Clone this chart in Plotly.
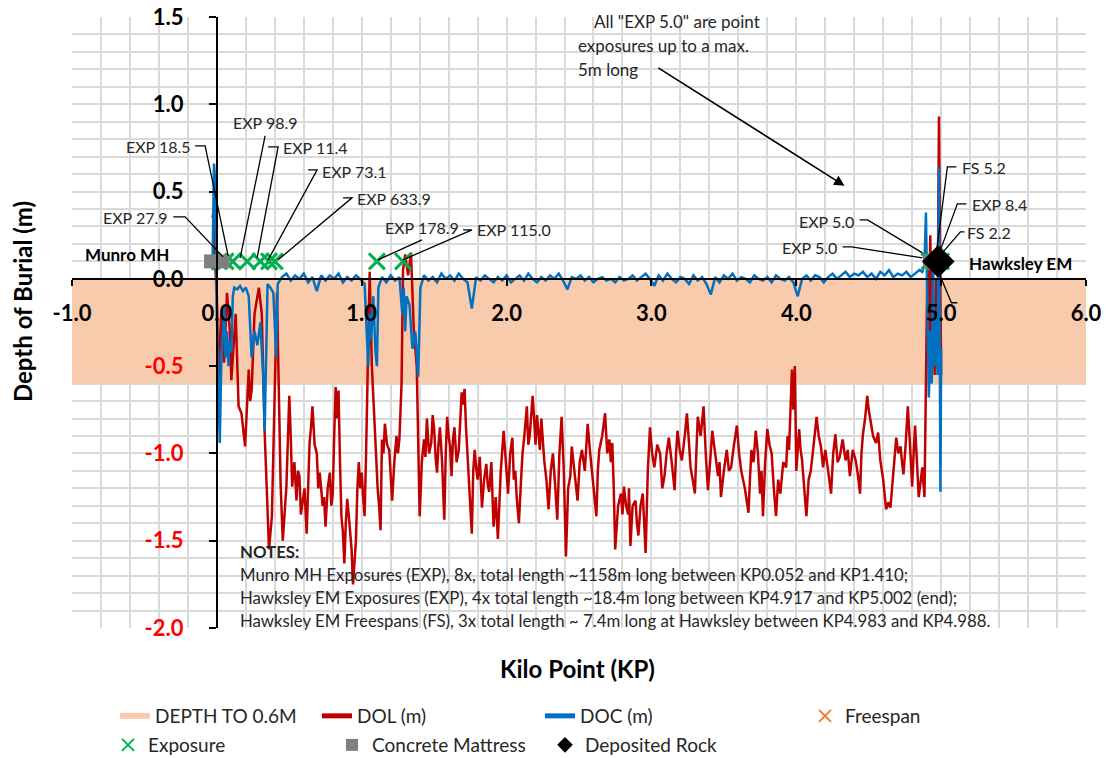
import plotly.graph_objects as go

FONT = "Lato"

# depth of lowering (DOL)
dol_kp = [
    -0.03, -0.02, -0.01, 0.0, 0.01, 0.03, 0.05, 0.07, 0.09, 0.10,
    0.13, 0.15, 0.17, 0.195, 0.22, 0.23, 0.24, 0.26, 0.29, 0.31,
    0.33, 0.345, 0.36, 0.38, 0.40, 0.415, 0.44, 0.455, 0.48, 0.50,
    0.51, 0.52, 0.535, 0.55, 0.56, 0.57, 0.58, 0.59, 0.605, 0.62,
    0.63, 0.64, 0.65, 0.66, 0.675, 0.69, 0.70, 0.71, 0.72, 0.73,
    0.74, 0.75, 0.765, 0.78, 0.79, 0.80, 0.81, 0.82, 0.83, 0.84,
    0.85, 0.86, 0.87, 0.88, 0.89, 0.90, 0.91, 0.92, 0.93, 0.94,
    0.95, 0.96, 0.97, 0.98, 0.99, 1.00, 1.01, 1.02, 1.03, 1.04,
    1.055, 1.07, 1.08, 1.09, 1.10, 1.11, 1.12, 1.13, 1.14, 1.15,
    1.16, 1.175, 1.19, 1.20, 1.21, 1.225, 1.24, 1.25, 1.26, 1.275,
    1.285, 1.30, 1.32, 1.34, 1.36, 1.38, 1.40, 1.415, 1.43, 1.44,
    1.45, 1.465, 1.48, 1.49, 1.50, 1.51, 1.52, 1.53, 1.54, 1.555,
    1.57, 1.58, 1.59, 1.60, 1.61, 1.62, 1.63, 1.64, 1.655, 1.67,
    1.68, 1.69, 1.70, 1.71, 1.72, 1.73, 1.745, 1.76, 1.77, 1.78,
    1.79, 1.80, 1.815, 1.83, 1.845, 1.86, 1.87, 1.88, 1.895, 1.91,
    1.925, 1.94, 1.96, 1.98, 1.995, 2.01, 2.025, 2.04, 2.05, 2.06,
    2.07, 2.085, 2.10, 2.11, 2.125, 2.14, 2.15, 2.16, 2.17, 2.18,
    2.19, 2.20, 2.21, 2.22, 2.23, 2.24, 2.25, 2.26, 2.275, 2.29,
    2.305, 2.32, 2.335, 2.35, 2.365, 2.38, 2.395, 2.41, 2.425, 2.44,
    2.45, 2.46, 2.475, 2.49, 2.505, 2.52, 2.54, 2.56, 2.575, 2.59,
    2.605, 2.62, 2.63, 2.64, 2.66, 2.68, 2.695, 2.71, 2.72, 2.73,
    2.74, 2.75, 2.77, 2.79, 2.80, 2.81, 2.825, 2.84, 2.845, 2.855,
    2.87, 2.89, 2.90, 2.91, 2.925, 2.94, 2.95, 2.96, 2.975, 2.99,
    3.005, 3.02, 3.04, 3.06, 3.075, 3.09, 3.105, 3.12, 3.14, 3.16,
    3.17, 3.18, 3.195, 3.21, 3.23, 3.245, 3.26, 3.27, 3.285, 3.30,
    3.31, 3.32, 3.34, 3.36, 3.375, 3.39, 3.405, 3.42, 3.44, 3.46,
    3.47, 3.48, 3.50, 3.52, 3.535, 3.55, 3.57, 3.59, 3.605, 3.62,
    3.645, 3.67, 3.68, 3.69, 3.705, 3.72, 3.735, 3.75, 3.76, 3.77,
    3.785, 3.80, 3.815, 3.83, 3.845, 3.86, 3.875, 3.89, 3.91, 3.93,
    3.94, 3.95, 3.96, 3.97, 3.98, 3.99, 4.00, 4.01, 4.02, 4.03,
    4.04, 4.055, 4.07, 4.085, 4.10, 4.12, 4.14, 4.155, 4.17, 4.185,
    4.20, 4.22, 4.24, 4.255, 4.27, 4.285, 4.30, 4.32, 4.34, 4.355,
    4.37, 4.39, 4.41, 4.425, 4.44, 4.45, 4.46, 4.475, 4.49, 4.50,
    4.51, 4.53, 4.55, 4.565, 4.58, 4.60, 4.62, 4.635, 4.65, 4.67,
    4.69, 4.705, 4.72, 4.73, 4.74, 4.755, 4.77, 4.785, 4.80, 4.81,
    4.82, 4.83, 4.845, 4.86, 4.87, 4.885, 4.895, 4.905, 4.915, 4.925,
    4.935, 4.945, 4.955, 4.965, 4.975, 4.985, 4.995, 5.0,
]
dol_m = [
    0.35, 0.40, 0.05, -0.1, -0.58, -0.2, -0.48, -0.08, -0.3, -0.58,
    -0.2, -0.73, -0.77, -0.96, -0.52, -0.7, -0.64, -0.2, -0.05, -0.2,
    -0.88, -1.21, -1.55, -1.36, -0.6, -0.08, -1.17, -1.5, -1.19, -0.67,
    -0.9, -1.19, -1.05, -1.27, -1.1, -1.13, -1.35, -1.29, -1.2, -1.46,
    -1.15, -0.94, -0.85, -0.73, -0.95, -1.0, -1.2, -1.11, -1.2, -1.3,
    -1.25, -1.42, -1.2, -1.11, -1.3, -1.23, -0.9, -0.62, -0.8, -0.64,
    -1.05, -1.36, -1.45, -1.63, -1.4, -1.26, -1.35, -1.44, -1.55, -1.75,
    -1.6, -1.5, -1.2, -1.05, -1.2, -1.11, -1.25, -1.36, -1.0, -0.62,
    0.04, -0.5, -0.7, -0.9, -1.1, -1.2, -1.3, -1.44, -0.92, -1.0,
    -0.83, -0.95, -0.98, -1.1, -1.27, -1.05, -0.9, -1.0, -0.92, -0.6,
    0.05, 0.14, 0.02, 0.15, -0.3, -0.5, -1.36, -1.05, -0.92, -1.02,
    -0.80, -1.0, -0.94, -0.78, -0.86, -1.02, -1.11, -0.95, -0.85, -1.05,
    -1.38, -1.0, -0.79, -0.9, -0.96, -1.13, -0.92, -0.85, -1.05, -0.98,
    -0.8, -0.65, -0.72, -0.63, -0.85, -1.0, -1.2, -1.46, -1.1, -0.98,
    -1.08, -1.15, -1.02, -1.31, -1.15, -1.06, -1.18, -1.22, -1.05, -1.42,
    -1.25, -1.49, -1.1, -0.87, -1.05, -1.23, -1.0, -0.91, -1.15, -1.1,
    -1.25, -1.4, -1.15, -1.0, -0.88, -0.73, -0.95, -0.9, -0.78, -0.67,
    -0.8, -0.95, -0.78, -0.87, -0.98, -0.80, -0.92, -1.04, -1.15, -1.32,
    -1.1, -1.0, -1.18, -1.38, -1.0, -0.79, -1.1, -1.59, -1.2, -1.13,
    -0.96, -1.04, -1.15, -1.27, -1.05, -0.98, -1.1, -0.83, -0.98, -1.12,
    -1.25, -1.36, -1.1, -0.98, -0.9, -0.77, -1.0, -0.92, -1.05, -0.94,
    -1.2, -1.55, -1.3, -1.23, -1.35, -1.19, -1.3, -1.35, -1.2, -1.53,
    -1.3, -1.27, -1.4, -1.47, -1.3, -1.23, -1.4, -1.57, -1.1, -0.85,
    -1.0, -1.08, -0.95, -1.0, -1.2, -1.13, -1.0, -0.91, -1.05, -1.21,
    -1.0, -0.87, -0.98, -1.04, -0.9, -0.77, -0.95, -1.08, -1.15, -1.23,
    -1.0, -0.79, -0.9, -0.73, -1.0, -1.21, -1.05, -0.87, -1.0, -1.13,
    -1.05, -1.25, -1.1, -0.98, -1.1, -1.08, -0.95, -0.84, -1.0, -1.10,
    -1.2, -1.34, -1.15, -0.98, -1.05, -0.87, -1.0, -1.23, -1.1, -1.36,
    -1.05, -0.86, -0.95, -1.0, -1.2, -1.36, -1.15, -1.23, -1.05, -1.08,
    -0.9, -0.98, -0.75, -0.52, -0.75, -0.50, -1.10, -0.95, -0.86, -0.98,
    -1.04, -1.2, -1.36, -1.15, -1.10, -0.95, -0.79, -0.9, -0.96, -1.08,
    -0.98, -1.1, -1.23, -1.0, -0.89, -1.05, -1.02, -0.92, -1.04, -0.98,
    -1.13, -0.98, -1.04, -1.12, -1.23, -1.0, -0.89, -0.8, -0.67, -0.75,
    -0.81, -0.9, -0.94, -0.88, -1.04, -1.15, -1.32, -1.28, -1.31, -1.1,
    -0.91, -1.0, -0.96, -1.05, -1.12, -0.95, -0.73, -0.95, -1.19, -1.0,
    -0.84, -1.0, -1.25, -1.15, -1.08, -1.25, -0.4, 0.05, -0.3, 0.25,
    -0.5, -0.2, -0.55, 0.0, -0.3, 0.93, -0.1, -0.55,
]

# depth of cover (DOC)
doc_kp = [
    -0.03, -0.02, -0.01, 0.0, 0.01, 0.02, 0.03, 0.04, 0.05, 0.06,
    0.07, 0.08, 0.09, 0.10, 0.11, 0.12, 0.14, 0.16, 0.18, 0.20,
    0.22, 0.24, 0.26, 0.28, 0.30, 0.32, 0.33, 0.35, 0.37, 0.39,
    0.40, 0.41, 0.42,
    0.45, 0.48, 0.51, 0.54, 0.57, 0.60, 0.63, 0.66, 0.69, 0.72,
    0.75, 0.78, 0.81, 0.84, 0.87, 0.90, 0.93, 0.96, 0.99, 1.02,
    1.035, 1.045, 1.055, 1.065, 1.08, 1.095, 1.105, 1.115,
    1.14, 1.17, 1.20, 1.23, 1.26,
    1.28, 1.29, 1.30, 1.31, 1.33, 1.35, 1.37, 1.39, 1.405,
    1.43, 1.46, 1.49, 1.52, 1.55, 1.58, 1.61, 1.64, 1.67, 1.70,
    1.73, 1.76, 1.79, 1.82, 1.85, 1.88, 1.91, 1.94, 1.97, 2.00,
    2.03, 2.06, 2.09, 2.12, 2.15, 2.18, 2.21, 2.24, 2.27, 2.30,
    2.33, 2.36, 2.39, 2.42, 2.45, 2.48, 2.51, 2.54, 2.57, 2.60,
    2.63, 2.66, 2.69, 2.72, 2.75, 2.78, 2.81, 2.84, 2.87, 2.90,
    2.93, 2.96, 2.99, 3.02, 3.05, 3.08, 3.11, 3.14, 3.17, 3.20,
    3.23, 3.26, 3.29, 3.32, 3.35, 3.38, 3.41, 3.44, 3.47, 3.50,
    3.53, 3.56, 3.59, 3.62, 3.65, 3.68, 3.71, 3.74, 3.77, 3.80,
    3.83, 3.86, 3.89, 3.92, 3.95, 3.98, 4.01, 4.04, 4.07, 4.10,
    4.13, 4.16, 4.19, 4.22, 4.25, 4.28, 4.31, 4.34, 4.37, 4.40,
    4.43, 4.46, 4.49, 4.52, 4.55, 4.58, 4.61, 4.64, 4.67, 4.70,
    4.73, 4.76, 4.79, 4.82, 4.85,
    4.87, 4.885, 4.895, 4.905, 4.915, 4.925, 4.935, 4.945, 4.955, 4.965,
    4.975, 4.985, 4.995, 5.0,
]
doc_m = [
    0.05, 0.66, 0.55, -0.2, -0.55, -0.94, -0.5, -0.35, -0.15, -0.45,
    -0.3, -0.5, -0.35, -0.42, -0.1, -0.05, -0.06, -0.04, -0.07, -0.05,
    -0.1, -0.45, -0.3, -0.38, -0.25, -0.55, -0.87, -0.03, -0.05, -0.08,
    -0.3, -0.45, -0.03,
    0.01, 0.03, -0.01, 0.02, 0.0, 0.03, -0.02, 0.01, -0.07, 0.02,
    -0.01, 0.02, 0.0, 0.03, -0.02, 0.01, -0.01, 0.02, 0.0, -0.03,
    -0.3, -0.5, -0.2, -0.35, -0.1, -0.42, -0.5, -0.05,
    0.01, -0.02, 0.02, -0.01, 0.01,
    -0.2, -0.05, -0.3, -0.1, -0.15, -0.4, -0.3, -0.56, -0.05,
    0.02, -0.01, 0.01, -0.02, 0.03, 0.0, 0.02, -0.01, 0.03, 0.0,
    -0.02, -0.17, 0.01, -0.01, 0.02, 0.0, -0.02, 0.01, -0.01, 0.02,
    -0.02, 0.0, 0.02, -0.01, 0.03, 0.0, -0.02, 0.01, -0.01, 0.02,
    0.0, 0.03, -0.01, -0.06, 0.01, 0.0, 0.02, -0.01, 0.01, -0.02,
    0.0, 0.01, -0.01, 0.0, -0.02, 0.01, -0.01, 0.0, 0.02, -0.01,
    0.01, 0.03, 0.0, -0.04, 0.02, -0.01, 0.03, 0.0, -0.02, 0.01,
    0.0, -0.03, 0.02, -0.01, 0.01, -0.03, -0.09, 0.01, -0.02, 0.02,
    0.0, 0.03, -0.01, 0.01, 0.0, -0.02, 0.02, 0.0, -0.01, 0.01,
    -0.02, 0.02, 0.0, -0.01, 0.01, -0.02, -0.1, 0.0, 0.02, -0.01,
    0.02, 0.01, -0.02, 0.01, 0.03, 0.0, 0.02, 0.04, 0.01, 0.03,
    0.02, 0.04, 0.01, 0.03, 0.0, 0.04, 0.02, 0.05, 0.01, 0.03,
    0.02, 0.04, 0.01, 0.03, 0.05,
    0.04, 0.08, 0.38, -0.2, -0.68, -0.3, -0.6, 0.1, -0.5, -0.2,
    -0.55, 0.64, -1.22, -0.4,
]

band_kp = [-1.0, 6.0]
band_m = [-0.6, -0.6]

exposure_kp = [0.06, 0.11, 0.21, 0.30, 0.36, 0.40, 1.105, 1.285, 4.92, 4.95, 4.97, 5.0]
exposure_m = [0.1] * len(exposure_kp)
freespan_kp = [4.983, 4.985, 4.988]
freespan_m = [0.1, 0.1, 0.1]
mattress_kp = [-0.04, 0.04, 4.925, 4.965]
mattress_m = [0.1, 0.1, 0.1, 0.1]
rock_kp = [4.975, 4.985]
rock_m = [0.1, 0.1]

y_ticks = [-2.0, -1.5, -1.0, -0.5, 0.0, 0.5, 1.0, 1.5]
x_ticks = [-1.0, 0.0, 1.0, 2.0, 3.0, 4.0, 5.0, 6.0]

# label text, anchor kp, anchor depth, xanchor
labels = [
    ("EXP 18.5", -0.163, 0.756, "right"),
    ("EXP 27.9", -0.322, 0.349, "right"),
    ("EXP 98.9", 0.333, 0.895, "center"),
    ("EXP 11.4", 0.443, 0.750, "left"),
    ("EXP 73.1", 0.713, 0.615, "left"),
    ("EXP 633.9", 0.954, 0.458, "left"),
    ("EXP 178.9", 1.419, 0.292, "center"),
    ("EXP 115.0", 1.781, 0.281, "left"),
    ("EXP 5.0", 4.409, 0.328, "right"),
    ("EXP 5.0", 4.298, 0.178, "right"),
    ("FS 5.2", 5.133, 0.636, "left"),
    ("EXP 8.4", 5.202, 0.424, "left"),
    ("FS 2.2", 5.168, 0.265, "left"),
]
leaders = [
    [(-0.150, 0.762), (-0.081, 0.762), (0.078, 0.132)],
    [(-0.301, 0.355), (-0.219, 0.355), (0.043, 0.126)],
    [(0.333, 0.819), (0.161, 0.120)],
    [(0.354, 0.756), (0.423, 0.756), (0.278, 0.120)],
    [(0.630, 0.624), (0.692, 0.624), (0.354, 0.109)],
    [(0.871, 0.464), (0.933, 0.464), (0.423, 0.109)],
    [(1.416, 0.223), (1.112, 0.109)],
    [(1.700, 0.281), (1.761, 0.281), (1.285, 0.109)],
    [(4.437, 0.338), (4.492, 0.338), (4.871, 0.149)],
    [(4.319, 0.183), (4.381, 0.183), (4.871, 0.120)],
    [(5.105, 0.641), (5.043, 0.641), (4.967, 0.149)],
    [(5.174, 0.430), (5.112, 0.430), (4.988, 0.149)],
    [(5.161, 0.269), (5.133, 0.269), (5.008, 0.149)],
    [(4.967, 0.069), (5.071, -0.137), (5.112, -0.137)],
]
notes = [
    "<b>NOTES:</b>",
    "Munro MH Exposures (EXP), 8x, total length ~1158m long between KP0.052 and KP1.410;",
    "Hawksley EM Exposures (EXP), 4x total length ~18.4m long between KP4.917 and KP5.002 (end);",
    "Hawksley EM Freespans (FS), 3x total length ~ 7.4m long at Hawksley between KP4.983 and KP4.988.",
]
notes_y = [0.1047, 0.0671, 0.0295, -0.0082]  # paper units
callout = ["All \"EXP 5.0\" are point", "exposures up to a max.", "5m long"]
callout_x = [2.589, 2.478, 2.478]
callout_y = [1.472, 1.334, 1.197]

GRID = "#d9d9d9"

fig = go.Figure()
fig.add_trace(go.Scatter(
    x=band_kp, y=band_m, name="DEPTH TO 0.6M", mode="none",
    fill="tozeroy", fillcolor="#f8cbad", legend="legend",
))
fig.add_trace(go.Scatter(
    x=dol_kp, y=dol_m, name="DOL (m)", mode="lines",
    line=dict(color="#c00000", width=2.5), legend="legend2",
))
fig.add_trace(go.Scatter(
    x=doc_kp, y=doc_m, name="DOC (m)", mode="lines",
    line=dict(color="#0070c0", width=2.5), legend="legend3",
))
fig.add_trace(go.Scatter(
    x=exposure_kp, y=exposure_m, name="Exposure", mode="markers",
    marker=dict(symbol="x-thin", size=16, line=dict(color="#00b050", width=3)),
    legend="legend5",
))
fig.add_trace(go.Scatter(
    x=mattress_kp, y=mattress_m, name="Concrete Mattress", mode="markers",
    marker=dict(symbol="square", size=14, color="#808080"), legend="legend6",
))
fig.add_trace(go.Scatter(
    x=freespan_kp, y=freespan_m, name="Freespan", mode="markers",
    marker=dict(symbol="x-thin", size=14, line=dict(color="#ed7d31", width=2)),
    legend="legend4",
))
fig.add_trace(go.Scatter(
    x=rock_kp, y=rock_m, name="Deposited Rock", mode="markers",
    marker=dict(symbol="diamond", size=24, color="#000000"), legend="legend7",
))

for pts in leaders:
    path = "M " + " L ".join(f"{x},{y}" for x, y in pts)
    fig.add_shape(type="path", path=path, xref="x", yref="y",
                  line=dict(color="#000000", width=1.3))

for text, x, y, anchor in labels:
    fig.add_annotation(x=x, y=y, text=text, showarrow=False, xanchor=anchor,
                       font=dict(size=16, color="#262626"))

fig.add_annotation(x=-0.922, y=0.137, text="<b>Munro MH</b>", showarrow=False,
                   xanchor="left", font=dict(size=17, color="#000000"))
fig.add_annotation(x=5.181, y=0.09, text="<b>Hawksley EM</b>", showarrow=False,
                   xanchor="left", font=dict(size=17, color="#000000"))

for text, y in zip(notes, notes_y):
    fig.add_annotation(x=0.147, y=y, yref="paper", text=text, showarrow=False,
                       xanchor="left", font=dict(size=16.8, color="#262626"))

for text, x, y in zip(callout, callout_x, callout_y):
    fig.add_annotation(x=x, y=y, text=text, showarrow=False, xanchor="left",
                       font=dict(size=17, color="#262626"))
fig.add_annotation(x=4.333, y=0.533, ax=3.037, ay=1.214, axref="x", ayref="y",
                   text="", showarrow=True, arrowhead=2, arrowsize=1.3,
                   arrowwidth=1.6, arrowcolor="#000000")

fig.add_annotation(x=-0.049, y=0.534, xref="paper", yref="paper",
                   xanchor="center", yanchor="middle",
                   text="<b>Depth of Burial (m)</b>", textangle=-90,
                   showarrow=False, font=dict(size=24, color="#000000"))
fig.add_annotation(x=0.499, y=-0.0655, xref="paper", yref="paper",
                   xanchor="center", yanchor="middle",
                   text="<b>Kilo Point (KP)</b>", showarrow=False,
                   font=dict(size=24, color="#000000"))

y_text = []
for v in y_ticks:
    if v < 0:
        y_text.append(f"<b><span style='color:#ff0000'>{v:.1f}</span></b>")
    else:
        y_text.append(f"<b>{v:.1f}</b>")

fig.update_xaxes(
    range=[-1, 6], tickvals=x_ticks, ticktext=[f"<b>{v:.1f}</b>" for v in x_ticks],
    anchor="free", position=2 / 3.5, automargin=False, showline=True,
    linecolor="#000000", linewidth=2, ticks="outside", ticklen=6, tickwidth=2,
    tickcolor="#000000", tickfont=dict(size=22, color="#000000"),
    ticklabelstandoff=9, ticklabeloverflow="allow",
    showgrid=True, gridcolor=GRID, gridwidth=1.5, zeroline=False,
    minor=dict(dtick=0.2, tick0=0, showgrid=True, gridcolor=GRID, gridwidth=1.5),
)
fig.update_yaxes(
    range=[-2, 1.5], tickvals=y_ticks, ticktext=y_text,
    anchor="free", position=1 / 7, automargin=False, showline=True,
    linecolor="#000000", linewidth=2, ticks="outside", ticklen=7, tickwidth=2,
    tickcolor="#000000", tickfont=dict(size=22, color="#000000"),
    ticklabelstandoff=21, ticklabeloverflow="allow",
    showgrid=True, gridcolor=GRID, gridwidth=1.5, zeroline=False,
    minor=dict(dtick=0.1, tick0=0, showgrid=True, gridcolor=GRID, gridwidth=1.5),
)

# legend entries placed in figure (container) pixels
legend_pos = {
    "legend": (115, 716),
    "legend2": (317, 716),
    "legend3": (540, 716),
    "legend4": (805, 716),
    "legend5": (108, 745),
    "legend6": (332, 745),
    "legend7": (545, 745),
}
FIG_W, FIG_H = 1107, 758
legend_style = {}
for key, (lx, ly) in legend_pos.items():
    legend_style[key] = dict(
        x=lx / FIG_W, y=1 - ly / FIG_H, xref="container", yref="container",
        xanchor="left", yanchor="middle", orientation="h",
        bgcolor="rgba(0,0,0,0)", font=dict(size=19, color="#262626"),
        itemsizing="constant",
    )

fig.update_layout(
    width=FIG_W, height=FIG_H,
    margin=dict(l=72, r=21, t=17, b=130),
    plot_bgcolor="#ffffff", paper_bgcolor="#ffffff",
    font=dict(family=FONT, color="#262626"),
    showlegend=True,
    **legend_style,
)

# drop the browser's default page margin so the figure sits at the corner
fig.write_html(
    "out.html",
    config={"displayModeBar": False},
    post_script="document.body.style.margin='0px';",
)
